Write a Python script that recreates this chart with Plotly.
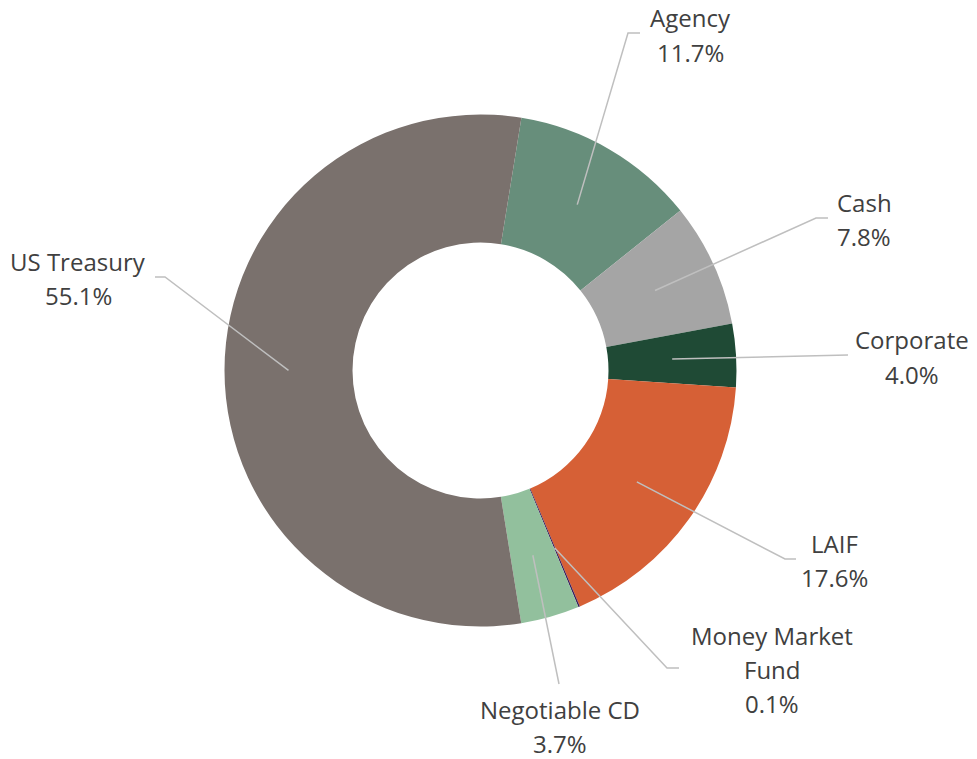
import math
import plotly.graph_objects as go

# ---- data ----
categories = ["Agency", "Cash", "Corporate", "LAIF", "Money Market Fund", "Negotiable CD", "US Treasury"]
values = [11.7, 7.8, 4.0, 17.6, 0.1, 3.7, 55.1]
label_lines = [["Agency", "11.7%"], ["Cash", "7.8%"], ["Corporate", "4.0%"], ["LAIF", "17.6%"],
               ["Money Market", "Fund", "0.1%"], ["Negotiable CD", "3.7%"], ["US Treasury", "55.1%"]]

# ---- style / layout ----
colors = ["#678E7B", "#A5A5A5", "#1F4A35", "#D66036", "#3C1F5C", "#92C09D", "#7A716D"]
W, H = 977, 759
CX, CY, R = 480.5, 370.5, 256.0
HOLE = 0.5
ROTATION = 9.2
# label block centres (px) and leader line start points (px)
label_pos = [(690, 35), (864, 220), (912, 357), (834, 560), (772, 669), (560, 726), (78, 278)]
leader_start = [[(640, 33), (628, 33)], [(828, 218), (816, 218)], [(848, 355)], [(796, 559), (785, 559)],
                [(679, 668), (667, 668)], [(559, 684)], [(155, 277), (165, 277)]]
LINE_GAP = 34
FONT = "Open Sans"
FSIZE = 24
TXT = "#404040"


def px2paper(x, y):
    return x / W, 1 - y / H


fig = go.Figure(go.Pie(
    labels=categories, values=values, hole=HOLE, sort=False, direction="clockwise",
    rotation=ROTATION, textinfo="none", hoverinfo="label+percent",
    marker=dict(colors=colors, line=dict(width=0)),
    domain=dict(x=[(CX - R) / W, (CX + R) / W], y=[1 - (CY + R) / H, 1 - (CY - R) / H]),
    showlegend=False,
))

total = sum(values)
cum = 0.0
shapes = []
annotations = []
rmid = R * (1 + HOLE) / 2
for i, v in enumerate(values):
    mid = ROTATION + (cum + v / 2) / total * 360
    cum += v
    a = math.radians(mid)
    ex, ey = CX + rmid * math.sin(a), CY - rmid * math.cos(a)
    pts = leader_start[i] + [(ex, ey)]
    path = "M " + " L ".join("%f,%f" % px2paper(x, y) for x, y in pts)
    shapes.append(dict(type="path", path=path, xref="paper", yref="paper",
                       line=dict(color="#BFBFBF", width=1.5)))
    lx, ly = label_pos[i]
    n = len(label_lines[i])
    for j, t in enumerate(label_lines[i]):
        yy = ly + (j - (n - 1) / 2) * LINE_GAP
        px_, py_ = px2paper(lx, yy)
        annotations.append(dict(text=t, x=px_, y=py_, xref="paper", yref="paper",
                                xanchor="center", yanchor="middle", showarrow=False,
                                font=dict(family=FONT, size=FSIZE, color=TXT)))

fig.update_layout(
    width=W, height=H, margin=dict(l=0, r=0, t=0, b=0),
    paper_bgcolor="white", plot_bgcolor="white",
    shapes=shapes, annotations=annotations,
)
fig.write_html("out.html", config={"displayModeBar": False},
               post_script="document.body.style.margin='0';document.body.style.overflow='hidden';")
